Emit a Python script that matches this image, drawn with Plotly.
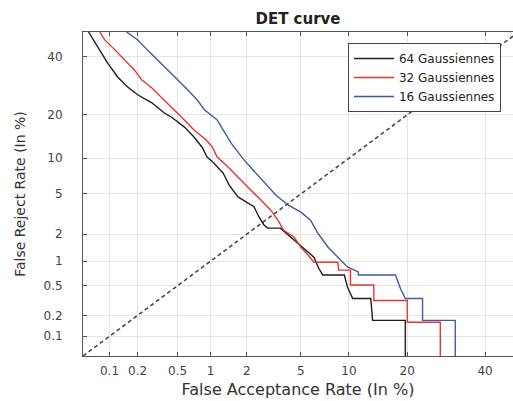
from statistics import NormalDist
import plotly.graph_objects as go

# ---- data (percent) ----
fa_64 = [0.058, 0.078, 0.095, 0.122, 0.156, 0.2, 0.28, 0.37, 0.445, 0.58, 0.71, 0.84, 0.93, 1.05, 1.28,
         1.44, 1.7, 2.28, 2.5, 2.72, 2.9, 3.6, 4.77, 6.1, 6.55, 6.95, 9.4, 9.8, 10.5, 13.2, 13.5, 19.6, 19.6]
fr_64 = [50, 42.9, 37.7, 32.5, 28.9, 26.2, 23.6, 20.6, 19.2, 16.7, 14.3, 12.1, 10.2, 9.3, 7.6,
         6.0, 4.7, 3.8, 3.0, 2.5, 2.32, 2.32, 1.6, 1.11, 0.82, 0.68, 0.68, 0.48, 0.34, 0.34, 0.17, 0.17, 0.045]

fa_32 = [0.078, 0.088, 0.114, 0.146, 0.185, 0.22, 0.28, 0.37, 0.465, 0.58, 0.71, 0.91, 1.03, 1.14, 1.41,
         1.7, 2.16, 2.58, 3.07, 3.45, 3.8, 4.5, 5.0, 5.6, 6.1, 8.6, 8.7, 10.2, 10.2, 13.7, 13.7, 20.0, 20.0,
         27.7, 27.7]
fr_32 = [50, 46.9, 42.9, 38.9, 35.0, 31.4, 28.5, 24.5, 21.5, 18.6, 16.0, 13.7, 12.2, 10.2, 8.5,
         7.0, 5.4, 4.4, 3.5, 2.8, 2.2, 1.86, 1.44, 1.17, 0.97, 0.97, 0.78, 0.78, 0.51, 0.51, 0.32, 0.32, 0.16,
         0.16, 0.045]

fa_16 = [0.153, 0.2, 0.25, 0.32, 0.40, 0.50, 0.62, 0.76, 0.88, 1.14, 1.28, 1.49, 1.9, 2.36, 2.9, 3.33,
         4.07, 5.0, 5.8, 6.46, 7.5, 8.6, 9.8, 11.3, 11.3, 17.6, 18.6, 19.6, 23.4, 23.4, 31.6, 31.6]
fr_16 = [50, 46.9, 42.9, 38.9, 35.0, 31.4, 27.9, 24.5, 21.5, 18.6, 16.0, 13.0, 9.7, 7.6, 5.8, 4.9,
         3.95, 3.37, 2.8, 2.06, 1.44, 1.11, 0.85, 0.74, 0.68, 0.68, 0.46, 0.34, 0.34, 0.17, 0.17, 0.045]

diag = [0.05, 50]

tick_vals = [0.1, 0.2, 0.5, 1, 2, 5, 10, 20, 40]
tick_text = ["0.1", "0.2", "0.5", "1", "2", "5", "10", "20", "40"]
x_limits = [0.05, 48.3]
y_limits = [0.05, 50]

series_names = ["64 Gaussiennes", "32 Gaussiennes", "16 Gaussiennes"]

ND = NormalDist()


def probit(vals):
    return [ND.inv_cdf(v / 100.0) for v in vals]


FONT = "DejaVu Sans"

fig = go.Figure()
fig.add_trace(go.Scatter(x=probit(diag), y=probit(diag), mode="lines",
                         line=dict(color="#4a4a4a", width=1.6, dash="4px,3px"),
                         showlegend=False, hoverinfo="skip"))
for fa, fr, name, col in [(fa_64, fr_64, series_names[0], "#1e1e1e"),
                          (fa_32, fr_32, series_names[1], "#e8352c"),
                          (fa_16, fr_16, series_names[2], "#3b5ca8")]:
    fig.add_trace(go.Scatter(x=probit(fa), y=probit(fr), mode="lines", name=name,
                             line=dict(color=col, width=1.4)))

axis_common = dict(
    tickvals=probit(tick_vals), ticktext=tick_text,
    ticks="inside", ticklen=4, tickcolor="#555",
    showline=True, linecolor="#555", linewidth=1,
    showgrid=True, gridcolor="#e4e4e4", gridwidth=1, zeroline=False,
    tickfont=dict(family=FONT, size=12, color="#444"),
)

fig.update_layout(
    width=513, height=401,
    margin=dict(l=83, r=0, t=32, b=45),
    paper_bgcolor="white", plot_bgcolor="white",
    title=dict(text="<b>DET curve</b>", x=0.5, xref="paper", xanchor="center",
               y=1 - 19 / 401, yref="container", yanchor="middle",
               font=dict(family=FONT, size=15, color="#222")),
    xaxis=dict(range=probit(x_limits), mirror="ticks",
               ticklabelstandoff=4,
               title=dict(text="False Acceptance Rate (In %)", standoff=6,
                          font=dict(family=FONT, size=16, color="#333")),
               **axis_common),
    yaxis=dict(range=probit(y_limits), mirror=False,
               title=dict(text="False Reject Rate (In %)", standoff=14,
                          font=dict(family=FONT, size=14, color="#333")),
               ticklabelstandoff=17,
               **axis_common),
    legend=dict(x=0.972, xanchor="right", y=0.966, yanchor="top",
                bgcolor="white", bordercolor="#444", borderwidth=1,
                font=dict(family=FONT, size=12, color="#222"),
                tracegroupgap=0, itemwidth=40),
    showlegend=True,
)

fig.write_html("out.html")
